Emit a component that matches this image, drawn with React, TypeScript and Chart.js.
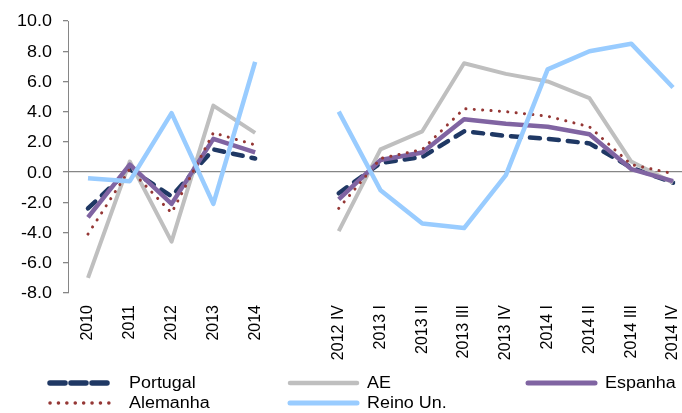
import React, { useEffect, useRef } from 'react';
import { Chart, registerables } from 'chart.js';

Chart.register(...registerables);

const categories = ['2010', '2011', '2012', '2013', '2014', '', '2012 IV', '2013 I', '2013 II', '2013 III', '2013 IV', '2014 I', '2014 II', '2014 III', '2014 IV'];
const portugal = [-2.4, 0.2, -1.6, 1.5, 0.9, null, -1.4, 0.6, 1.0, 2.7, 2.4, 2.2, 1.9, 0.3, -0.7];
const ae = [-7.0, 0.7, -4.6, 4.4, 2.6, null, -3.9, 1.5, 2.7, 7.2, 6.5, 6.0, 4.9, 0.7, -0.7];
const espanha = [-3.0, 0.5, -2.1, 2.2, 1.3, null, -1.8, 0.8, 1.3, 3.5, 3.2, 3.0, 2.5, 0.2, -0.6];
const alemanha = [-4.1, 0.2, -2.7, 2.6, 1.8, null, -2.4, 0.9, 1.5, 4.2, 4.0, 3.7, 3.0, 0.5, -0.1];
const reinoUn = [-0.4, -0.6, 3.9, -2.1, 7.3, null, 4.0, -1.2, -3.4, -3.7, -0.2, 6.8, 8.0, 8.5, 5.6];
const yMin = -8;
const yMax = 10;
const yStep = 2;

const FONT = "'Liberation Sans', Arial, sans-serif";
const AXIS_GRAY = '#868686';

const series = [
  { label: 'Portugal', data: portugal, color: '#1F3864', width: 4.5, dash: [10, 9], order: 4 },
  { label: 'AE', data: ae, color: '#BFBFBF', width: 4, dash: [] as number[], order: 3 },
  { label: 'Espanha', data: espanha, color: '#8064A2', width: 4.5, dash: [] as number[], order: 2 },
  { label: 'Alemanha', data: alemanha, color: '#953735', width: 3, dash: [0.1, 8.3], order: 1 },
  { label: 'Reino Un.', data: reinoUn, color: '#99CCFF', width: 4.5, dash: [] as number[], order: 0 },
];

const stretchedYLabels = {
  id: 'stretchedYLabels',
  afterDraw(chart: any) {
    const y = chart.scales.y;
    const ctx = chart.ctx;
    ctx.save();
    ctx.fillStyle = '#000';
    ctx.font = `16px ${FONT}`;
    ctx.textAlign = 'right';
    ctx.textBaseline = 'middle';
    y.ticks.forEach((t: any) => {
      const py = y.getPixelForValue(t.value);
      ctx.save();
      ctx.translate(y.right - 16, py + 1);
      ctx.scale(1.12, 1);
      ctx.fillText(Number(t.value).toFixed(1), 0, 0);
      ctx.restore();
    });
    ctx.restore();
  },
};

function LegendItem({ x, y, s }: { x: number; y: number; s: (typeof series)[number] }) {
  const dashArr = s.dash.length ? s.dash.join(' ') : undefined;
  const short = s.label === 'Portugal' || s.label === 'Alemanha';
  return (
    <div style={{ position: 'absolute', left: x, top: y - 12, height: 24, width: 240 }}>
      <svg width={80} height={24} style={{ position: 'absolute', left: 0, top: 0 }}>
        <line
          x1={3}
          y1={12}
          x2={short ? 63 : 70}
          y2={12}
          stroke={s.color}
          strokeWidth={s.label === 'Portugal' ? 5.5 : s.width + 0.5}
          strokeDasharray={s.label === 'Portugal' ? '15 6' : dashArr}
          strokeLinecap="round"
        />
      </svg>
      <span
        style={{
          position: 'absolute',
          left: short ? 82 : 80,
          top: 2,
          fontFamily: FONT,
          fontSize: 16,
          lineHeight: '20px',
          color: '#000',
          whiteSpace: 'nowrap',
          transform: 'scaleX(1.12)',
          transformOrigin: 'left center',
        }}
      >
        {s.label}
      </span>
    </div>
  );
}

export default function App() {
  const canvasRef = useRef<HTMLCanvasElement | null>(null);

  useEffect(() => {
    if (!canvasRef.current) return;
    const chart = new Chart(canvasRef.current, {
      type: 'line',
      data: {
        datasets: series.map((s) => ({
          label: s.label,
          data: s.data.map((v, i) => ({ x: i, y: v })),
          borderColor: s.color,
          backgroundColor: s.color,
          borderWidth: s.width,
          borderDash: s.dash,
          borderCapStyle: s.dash.length ? 'round' : 'butt',
          borderJoinStyle: 'round',
          pointRadius: 0,
          tension: 0,
          spanGaps: false,
          fill: false,
          order: s.order,
        })) as any,
      },
      options: {
        responsive: false,
        animation: false,
        events: [],
        layout: { padding: { top: 21, left: 0, right: 0, bottom: 0 } },
        plugins: {
          legend: { display: false },
          tooltip: { enabled: false },
        },
        scales: {
          x: {
            type: 'linear',
            min: -0.4786,
            max: 14.215,
            afterFit: (scale: any) => {
              scale.height = 120;
              scale.paddingLeft = 0;
              scale.paddingRight = 0;
            },
            afterBuildTicks: (scale: any) => {
              scale.ticks = categories
                .map((c, i) => ({ value: i, label: c }))
                .filter((t) => t.label !== '');
            },
            grid: { display: false, drawTicks: false },
            border: { display: false },
            ticks: {
              autoSkip: false,
              minRotation: 90,
              maxRotation: 90,
              padding: 12,
              color: '#000',
              font: { family: FONT, size: 16 },
              callback: (v: any) => categories[Math.round(Number(v))] ?? '',
            },
          },
          y: {
            min: yMin,
            max: yMax,
            afterFit: (scale: any) => {
              scale.width = 68;
            },
            border: { display: true, color: AXIS_GRAY, width: 1 },
            grid: {
              color: (ctx: any) => (ctx.tick && ctx.tick.value === 0 ? AXIS_GRAY : 'rgba(0,0,0,0)'),
              lineWidth: 1.3,
              tickColor: AXIS_GRAY,
              tickLength: 5,
              drawTicks: true,
            },
            ticks: {
              stepSize: yStep,
              display: false,
            },
          },
        },
      },
      plugins: [stretchedYLabels],
    } as any);
    return () => chart.destroy();
  }, []);

  return (
    <div style={{ position: 'fixed', left: 0, top: 0, width: 682, height: 413, background: '#fff', overflow: 'hidden' }}>
      <canvas ref={canvasRef} width={682} height={413} style={{ display: 'block', width: 682, height: 413 }} />
      <LegendItem x={47} y={383} s={series[0]} />
      <LegendItem x={287} y={383} s={series[1]} />
      <LegendItem x={525} y={383} s={series[2]} />
      <LegendItem x={47} y={403} s={series[3]} />
      <LegendItem x={287} y={403} s={series[4]} />
    </div>
  );
}
